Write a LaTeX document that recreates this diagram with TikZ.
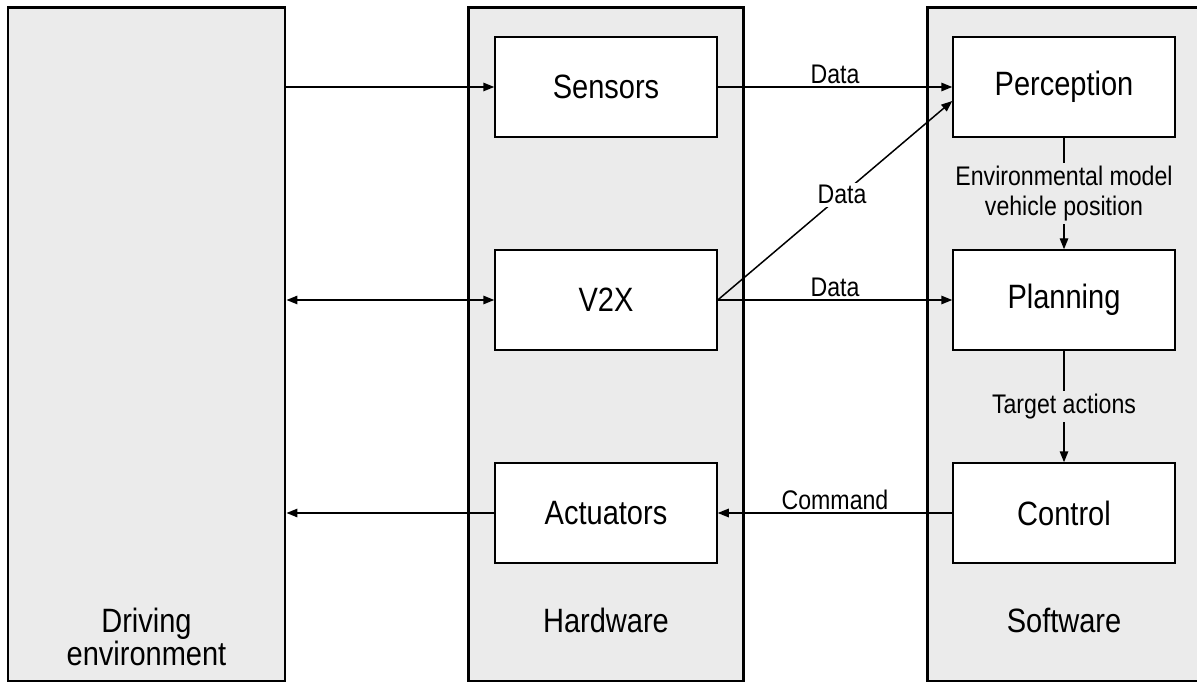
\documentclass[tikz,border=0pt]{standalone}
\usepackage{fontspec}
\setmainfont{Liberation Sans}[FakeStretch=0.86]
\usepackage{tikz}
\usetikzlibrary{arrows.meta,positioning}
\definecolor{panelgray}{HTML}{EBEBEB}
\tikzset{
	>={Triangle[length=0.22cm,width=0.17cm]},
	panel/.style={draw,line width=1.7pt,fill=panelgray,minimum height=13.46cm,inner sep=0pt},
	unit/.style={draw,line width=0.85pt,fill=white,minimum width=4.44cm,minimum height=2cm,font=\fontsize{19.2}{17}\selectfont},
	conn/.style={line width=0.85pt,->},
	lbl/.style={font=\fontsize{15.3}{17}\selectfont,inner sep=1.5pt,align=center},
	title/.style={font=\fontsize{19.2}{17}\selectfont,align=center}
}
\begin{document}
\begin{tikzpicture}
	\useasboundingbox (0,0) rectangle (23.94,13.68);
	% the three panels
	\node[panel,minimum width=5.54cm] (env) at (2.93,6.79) {};
	\node[panel,minimum width=5.50cm] (hw) at (12.11,6.79) {};
	\node[panel,minimum width=5.51cm] (sw) at (21.295,6.79) {};
		\node[title] (envlbl) at (2.93,0.94) {Driving\\environment};
		\node[title] (hwlbl) at (12.12,1.28) {Hardware};
		\node[title] (swlbl) at (21.28,1.28) {Software};
	% hardware
	\node[unit] (sens) at (12.12,11.94) {Sensors};
	\node[unit] (vtox) at (12.12,7.68) {V2X};
	\node[unit] (act) at (12.12,3.42) {Actuators};
	% software
	\node[unit] (perc) at (21.28,11.94) {Perception};
	\node[unit] (plan) at (21.28,7.68) {Planning};
	\node[unit] (ctrl) at (21.28,3.42) {Control};
	% environment <-> hardware
	\draw[conn] (env.east |- sens.west) -- (sens.west);
	\draw[conn,<->] (env.east |- vtox.west) -- (vtox.west);
	\draw[conn] (act.west) -- (env.east |- act.west);
	% hardware <-> software
	\draw[conn] (sens.east) -- node[lbl,above] {Data} (perc.west);
	\draw[conn] (vtox.east) -- node[lbl,above] {Data} (plan.west);
	\draw[conn] (vtox.east) -- node[lbl,fill=white,pos=0.53] {Data} ([yshift=-0.28cm]perc.west);
	\draw[conn] (ctrl.west) -- node[lbl,above] {Command} (act.east);
	% software chain
	\draw[conn] (perc.south) -- node[lbl,fill=panelgray] {Environmental model\\vehicle position} (plan.north);
	\draw[conn] (plan.south) -- node[lbl,fill=panelgray] {Target actions} (ctrl.north);
\end{tikzpicture}
\end{document}
